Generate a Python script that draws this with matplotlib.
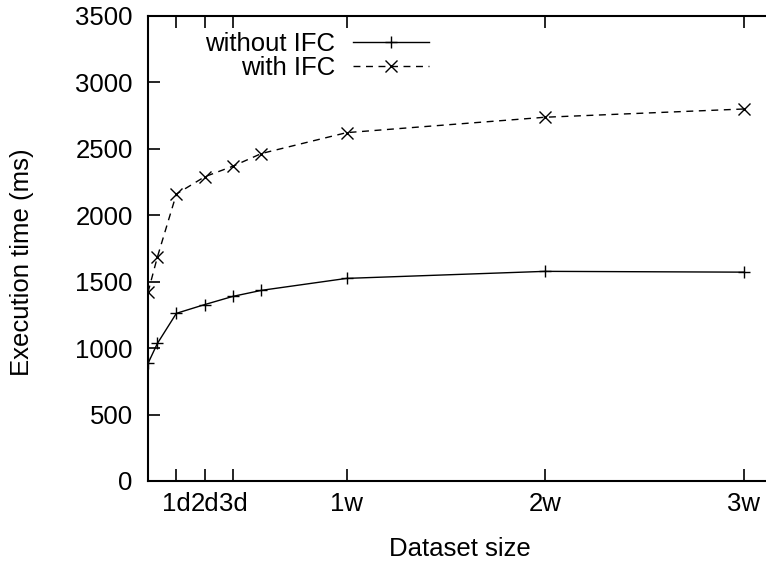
import matplotlib
matplotlib.use('Agg')
import matplotlib.pyplot as plt

plt.rcParams['font.family'] = ['Liberation Sans', 'DejaVu Sans']

# dataset size in days
days = [0.0, 0.33, 1, 2, 3, 4, 7, 14, 21]
without_ifc = [885, 1035, 1262, 1328, 1390, 1435, 1525, 1578, 1572]
with_ifc = [1420, 1685, 2160, 2290, 2370, 2465, 2622, 2738, 2800]

tick_pos = [1, 2, 3, 7, 14, 21]
tick_labels = ['1d', '2d', '3d', '1w', '2w', '3w']

fs = 18.5

fig = plt.figure(figsize=(7.66, 5.64), dpi=100)
ax = fig.add_axes([148 / 766, 1 - 481 / 564, 624 / 766, 465 / 564])

ax.plot(days, without_ifc, color='black', linestyle='-', linewidth=1.0,
        marker='+', markersize=9, markeredgewidth=1.0, label='without IFC')
ax.plot(days, with_ifc, color='black', linestyle=(0, (5, 4)), linewidth=1.0,
        marker='x', markersize=8, markeredgewidth=1.0, label='with IFC')

ax.set_xlim(0, 22)
ax.set_ylim(0, 3500)
ax.set_xticks(tick_pos)
ax.set_xticklabels(tick_labels)
ax.set_yticks(range(0, 3501, 500))

ax.spines['right'].set_visible(False)
for s in ['left', 'bottom', 'top']:
    ax.spines[s].set_linewidth(1.5)
ax.tick_params(direction='in', length=8.5, width=1.2, labelsize=fs,
               top=True, right=False)
ax.tick_params(axis='y', pad=11)
ax.tick_params(axis='x', pad=8)

ax.set_xlabel('Dataset size', fontsize=fs)
ax.set_ylabel('Execution time (ms)', fontsize=fs)
ax.xaxis.set_label_coords(0.5, -(549 - 481) / 465, transform=ax.transAxes)
ax.xaxis.label.set_va('center')
ax.yaxis.set_label_coords(-(148 - 22) / 624, 0.47, transform=ax.transAxes)
ax.yaxis.label.set_va('center')

leg = ax.legend(loc='upper left', bbox_to_anchor=(205 / 766, 1 - 32 / 564),
                bbox_transform=fig.transFigure, frameon=False,
                fontsize=fs, markerfirst=False, handlelength=2.95,
                labelspacing=0.0, handletextpad=0.7, borderpad=0,
                borderaxespad=0)
for t in leg.get_texts():
    t.set_ha('right')
leg._legend_box.align = 'right'

fig.savefig('out.png', dpi=100)
